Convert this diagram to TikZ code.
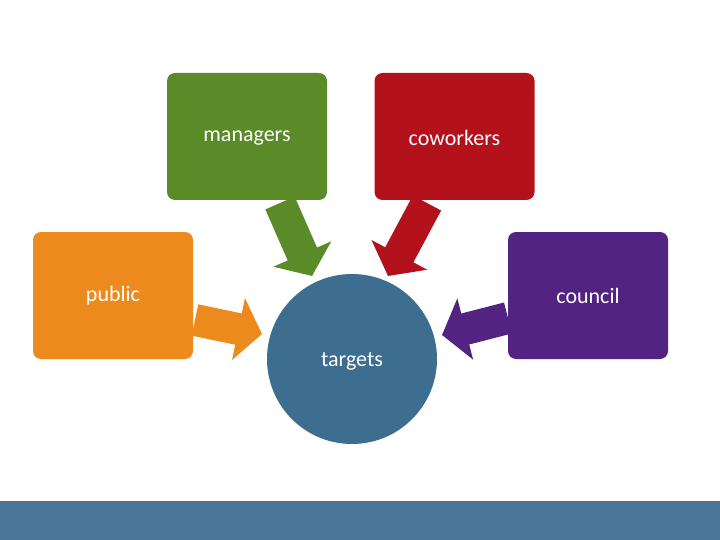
\documentclass[tikz,border=0pt]{standalone}
\usepackage{fontspec}
\setmainfont{Carlito}
\usetikzlibrary{arrows.meta}
\definecolor{cgreen}{HTML}{5B8A28}
\definecolor{cred}{HTML}{B3121D}
\definecolor{corange}{HTML}{EC8A1E}
\definecolor{cpurple}{HTML}{532381}
\definecolor{cblue}{HTML}{3D6E8F}
\definecolor{cbar}{HTML}{4B7697}
\tikzset{
  box/.style={rounded corners=8pt, minimum width=160pt, minimum height=127pt, inner sep=0pt, text=white, font=\fontsize{22}{26}\selectfont},
  blk/.style={line width=32pt, -{Triangle[width=62pt,length=24pt]}}
}
\begin{document}
\begin{tikzpicture}[x=1pt,y=-1pt]
\useasboundingbox (0,0) rectangle (720,540);
\fill[cbar] (0,501) rectangle (720,540);
\node[box, fill=cgreen] (man) at (247,136.5) {};
\node[text=white, font=\fontsize{22}{26}\selectfont] (mant) at (247,138) {managers};
\node[box, fill=cred] (cow) at (454.5,136.5) {};
\node[text=white, font=\fontsize{22}{26}\selectfont] (cowt) at (454.5,138) {coworkers};
\node[box, fill=corange] (pub) at (113,295.5) {};
\node[text=white, font=\fontsize{22}{26}\selectfont] (pubt) at (113,296) {public};
\node[box, fill=cpurple] (cou) at (588,295.5) {};
\node[text=white, font=\fontsize{22}{26}\selectfont] (cout) at (588,296) {council};
\node[circle, fill=cblue, minimum size=170pt, inner sep=0pt] (tar) at (352,359) {};
\node[text=white, font=\fontsize{22}{26}\selectfont] (tart) at (352,361) {targets};
\coordinate (g1) at (280,203); \coordinate (g2) at (312,276);
\coordinate (r1) at (427,203); \coordinate (r2) at (388,276);
\coordinate (o1) at (195,320); \coordinate (o2) at (262,334);
\coordinate (p1) at (508,318); \coordinate (p2) at (442,335);
\draw[blk, cgreen] (g1) -- (g2);
\draw[blk, cred] (r1) -- (r2);
\draw[blk, corange] (o1) -- (o2);
\draw[blk, cpurple] (p1) -- (p2);
\end{tikzpicture}
\end{document}
